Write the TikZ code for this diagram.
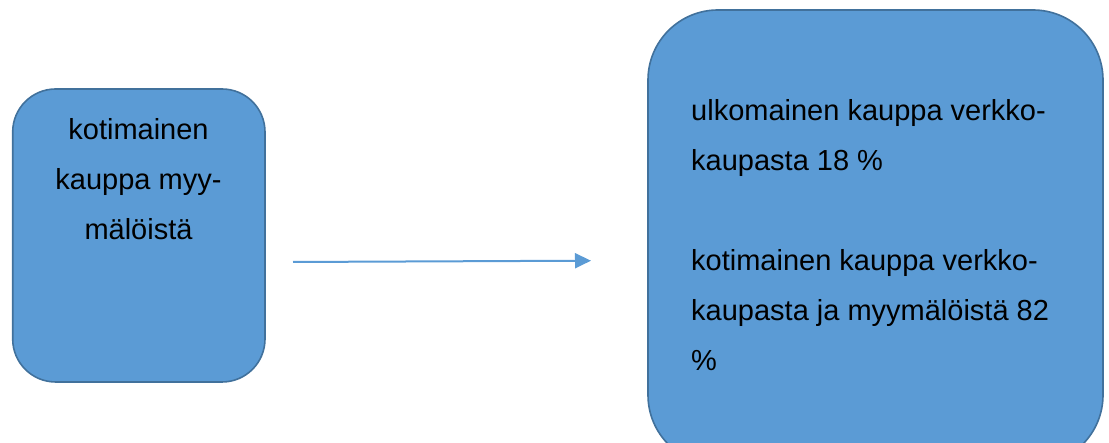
\documentclass[tikz,border=0pt]{standalone}
\usepackage{fontspec}
\setmainfont{Liberation Sans}
\usetikzlibrary{arrows.meta}
\definecolor{boxfill}{HTML}{5B9BD5}
\definecolor{boxline}{HTML}{41719C}
\tikzset{
  card/.style={draw=boxline, fill=boxfill, line width=1.6pt},
  txt/.style={inner sep=0pt, font=\fontsize{29}{50}\selectfont, text=black},
  link/.style={draw=boxfill, line width=2pt, -{Triangle[length=16pt,width=15pt]}}
}
\begin{document}
\begin{tikzpicture}[x=1pt,y=1pt]
\useasboundingbox (0,0) rectangle (1109,443);
\begin{scope}
\clip (0,0) rectangle (1109,443);
\draw[card, rounded corners=43pt] (12.7,61) rectangle (265,354);
\draw[card, rounded corners=70pt] (648,-22) rectangle (1103,433);
\end{scope}
\node[txt, align=center, anchor=north] (left) at (138.5,325) {kotimainen\\kauppa myy-\\mälöistä};
\node[txt, align=left, anchor=north west] (right) at (691,344) {ulkomainen kauppa verkko-\\kaupasta 18 \%\\[50pt]kotimainen kauppa verkko-\\kaupasta ja myymälöistä 82\\\%};
\coordinate (a) at (293,181);
\coordinate (b) at (591,182.3);
\draw[link] (a) -- (b);
\end{tikzpicture}
\end{document}
